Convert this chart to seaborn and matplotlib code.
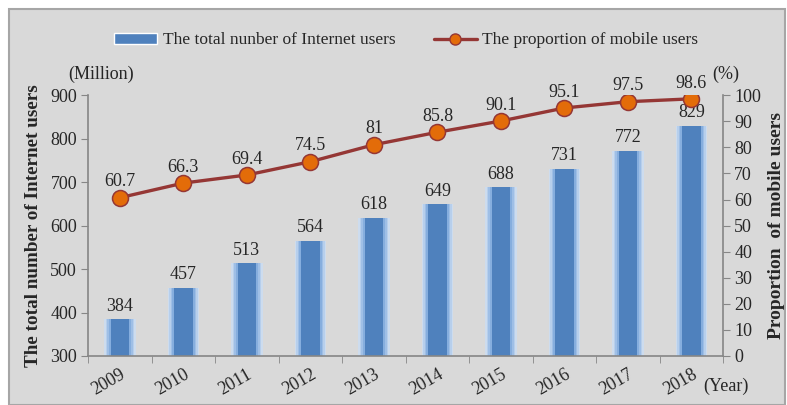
import numpy as np
import matplotlib
matplotlib.use('Agg')
import matplotlib.pyplot as plt
import seaborn as sns
from matplotlib.lines import Line2D
from matplotlib.patches import Patch

years = ['2009', '2010', '2011', '2012', '2013', '2014', '2015', '2016', '2017', '2018']
users = [384, 457, 513, 564, 618, 649, 688, 731, 772, 829]
mobile_pct = [60.7, 66.3, 69.4, 74.5, 81, 85.8, 90.1, 95.1, 97.5, 98.6]
mobile_labels = ['60.7', '66.3', '69.4', '74.5', '81', '85.8', '90.1', '95.1', '97.5', '98.6']

sns.set_style('white')
plt.rcParams['font.family'] = ['Liberation Serif', 'DejaVu Serif']
bg = '#d9d9d9'
fig = plt.figure(figsize=(7.87, 4.05), dpi=100, facecolor='white')
# grey panel with border like the original
fig.patches.append(plt.Rectangle((0.012, 0.0), 0.985, 0.978, transform=fig.transFigure,
                                 facecolor=bg, edgecolor='#a6a6a6', linewidth=1.5, zorder=-10))

ax = fig.add_axes([0.112, 0.121, 0.807, 0.644])
ax.set_facecolor(bg)

# soft glow layers behind the bars
for w, c in [(0.50, '#cddcee'), (0.45, '#b7cfec'), (0.40, '#9fbfe6'), (0.35, '#86aede'),
             (0.29, '#4f81bd')]:
    sns.barplot(x=years, y=users, color=c, width=w, saturation=1, linewidth=0, ax=ax)
ax.set_ylim(300, 900)
ax.set_xlim(-0.5, len(years) - 0.5)
for i, v in enumerate(users):
    ax.text(i, v + 11, str(v), ha='center', va='bottom', fontsize=13)

ax2 = ax.twinx()
sns.lineplot(x=np.arange(len(years)), y=mobile_pct, color='#953735', linewidth=2.4,
             marker='o', markersize=11.5, markerfacecolor='#e36c09',
             markeredgecolor='#953735', markeredgewidth=1.1, ax=ax2)
ax2.set_ylim(0, 100)
for i, (v, lab) in enumerate(zip(mobile_pct, mobile_labels)):
    ax2.text(i, v + 2.8, lab, ha='center', va='bottom', fontsize=13)

gray = '#868686'
for a in (ax, ax2):
    for s in a.spines.values():
        s.set_visible(False)
ax.spines['left'].set_visible(True)
ax.spines['bottom'].set_visible(True)
ax2.spines['right'].set_visible(True)
for s in (ax.spines['left'], ax.spines['bottom'], ax2.spines['right']):
    s.set_color(gray)
    s.set_linewidth(1.2)

ax.set_yticks(range(300, 901, 100))
ax2.set_yticks(range(0, 101, 10))
ax.tick_params(axis='y', direction='out', length=5, color=gray, labelsize=13, left=True, pad=3)
ax2.tick_params(axis='y', direction='out', length=5, color=gray, labelsize=13, right=True, pad=3)
ax.set_xticks(np.arange(len(years)))
ax.set_xticklabels(years, rotation=30, ha='right', rotation_mode='anchor', fontsize=13)
ax.set_xticks(np.arange(len(years) + 1) - 0.5, minor=True)
ax.tick_params(axis='x', which='major', length=0, pad=7)
ax.tick_params(axis='x', which='minor', direction='out', length=5, color=gray, bottom=True)

ax.set_ylabel('The total number of Internet users', fontsize=13.8, fontweight='bold', labelpad=6)
ax2.set_ylabel('Proportion  of mobile users', fontsize=14, fontweight='bold', labelpad=5)
ax.set_xlabel('')

fig.text(0.087, 0.805, '(Million)', fontsize=13)
fig.text(0.905, 0.805, '(%)', fontsize=13)
fig.text(0.894, 0.035, '(Year)', fontsize=13)

handles = [Patch(facecolor='#4f81bd'),
           Line2D([], [], color='#953735', linewidth=2.4, marker='o', markersize=8,
                  markerfacecolor='#e36c09', markeredgecolor='#953735')]
fig.legend(handles, ['The total nunber of Internet users', 'The proportion of mobile users'],
           loc='center', bbox_to_anchor=(0.516, 0.9), ncol=2, frameon=False, fontsize=12.5,
           handlelength=2.5, handleheight=0.55, columnspacing=2.2, handletextpad=0.3)

fig.savefig('out.png', dpi=100, facecolor='white')
